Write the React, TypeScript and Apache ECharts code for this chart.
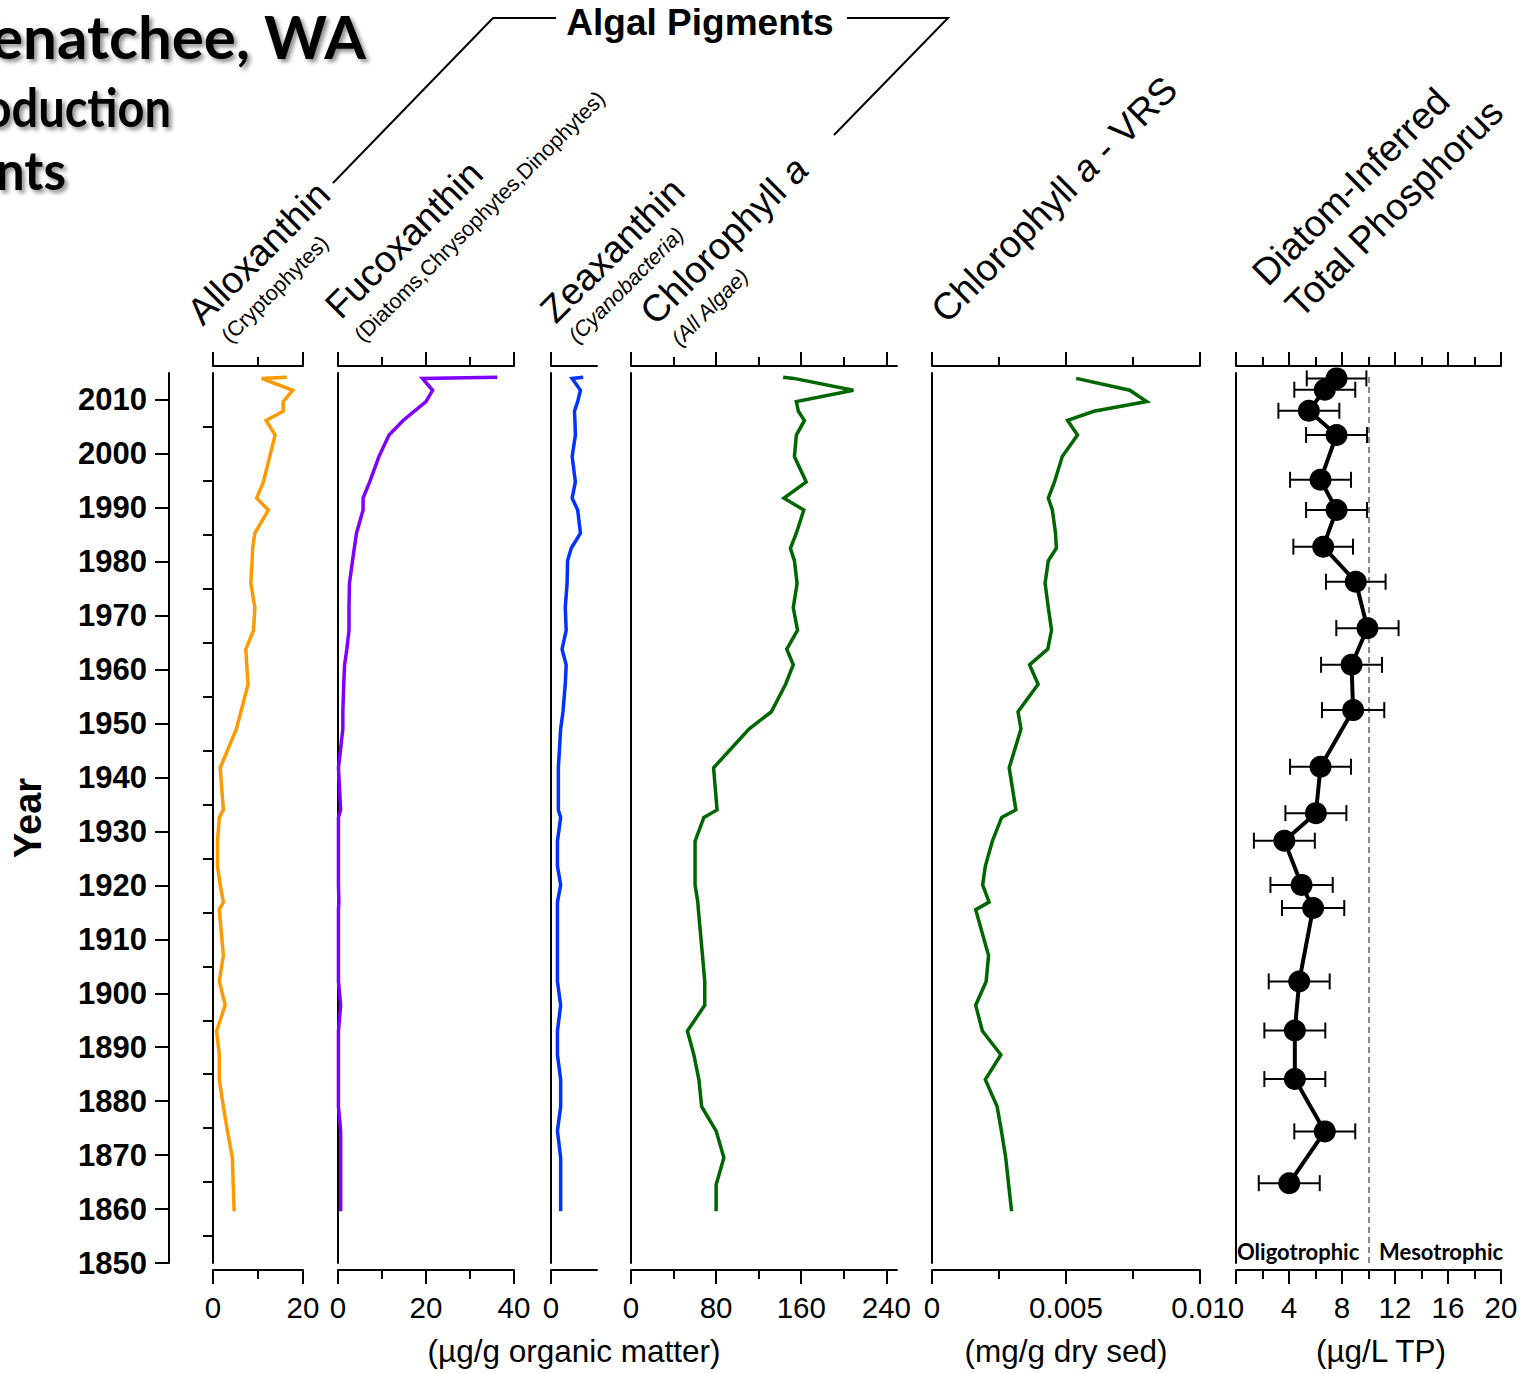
import React, { useEffect, useRef } from "react";
import * as echarts from "echarts";

// ---------- DATA ----------
// sediment sample years (pigments and VRS)
const pigmentYears = [
  2014.2, 2014.0, 2011.8, 2009.7, 2007.9, 2006.2, 2003.5, 1999.5, 1994.8, 1991.8,
  1989.6, 1985.3, 1982.5, 1980.2, 1976.0, 1971.5, 1967.3, 1963.8, 1960.9, 1957.3,
  1952.2, 1949.0, 1941.8, 1934.0, 1932.6, 1928.2, 1923.6, 1920.1, 1916.9, 1915.5,
  1907.0, 1902.2, 1897.8, 1893.0, 1888.6, 1884.0, 1879.0, 1874.5, 1869.5, 1864.5,
  1859.6,
];
const alloxanthin = [
  16.4, 10.8, 17.7, 15.6, 15.6, 11.8, 13.8, 12.6, 11.2, 9.7,
  12.3, 9.3, 8.8, 8.7, 8.4, 9.3, 9.0, 7.3, 7.5, 7.8,
  6.2, 5.2, 1.6, 2.3, 1.4, 1.0, 1.0, 1.6, 2.3, 1.4,
  2.3, 1.4, 2.7, 0.8, 1.4, 1.4, 2.3, 3.2, 4.3, 4.5,
  4.7,
];
const fucoxanthin = [
  36.2, 19.2, 21.5, 20.0, 17.3, 14.8, 11.6, 9.3, 7.2, 5.7,
  5.7, 4.2, 3.7, 3.3, 2.6, 2.5, 2.5, 2.0, 1.5, 1.3,
  1.1, 1.1, 0.1, 0.6, 0.1, 0.1, 0.1, 0.1, 0.2, 0.1,
  0.1, 0.1, 0.6, 0.1, 0.1, 0.1, 0.1, 0.6, 0.6, 0.6,
  0.6,
];
const zeaxanthin = [
  7.0, 4.6, 6.4, 5.8, 5.1, 5.2, 5.3, 4.6, 5.3, 4.6,
  5.8, 6.4, 4.4, 3.6, 3.5, 3.1, 3.3, 2.4, 3.3, 3.1,
  2.6, 2.1, 1.6, 1.6, 2.1, 1.4, 1.4, 2.1, 1.4, 1.4,
  1.4, 1.4, 2.1, 1.4, 1.4, 2.1, 2.1, 1.4, 2.1, 2.1,
  2.1,
];
const chlorophyllA = [
  143, 153, 209, 155.4, 157.3, 163, 155.4, 153.6, 164.7, 143.8,
  162.4, 155.4, 149.8, 153.6, 156.1, 152.5, 156.5, 146.4, 152.5, 145.3,
  131.9, 110.9, 77.6, 80.9, 68.5, 60.2, 60.2, 60.2, 62.8, 63.3,
  67.2, 69.3, 69.3, 53.0, 59.1, 63.8, 66.4, 80.0, 87.3, 80.0,
  80.0,
];
const chlorophyllVRS = [
  null, 0.00538, 0.00738, 0.00801, 0.00604, 0.00506, 0.00543, 0.00486, 0.00457, 0.00434,
  0.00449, 0.00461, 0.00464, 0.00434, 0.00422, 0.00434, 0.00446, 0.00432, 0.00364, 0.00396,
  0.00321, 0.00332, 0.00288, 0.00313, 0.0026, 0.00225, 0.00199, 0.00189, 0.00213, 0.00163,
  0.00211, 0.00202, 0.00163, 0.00188, 0.00257, 0.00199, 0.00243, 0.00259, 0.00275, 0.00286,
  0.00297,
];
// diatom-inferred TP
const tpYears = [
  2014.0, 2011.9, 2008.0, 2003.5, 1995.2, 1989.6, 1982.8, 1976.3, 1967.7, 1960.9,
  1952.5, 1942.0, 1933.4, 1928.3, 1920.1, 1915.8, 1902.2, 1893.1, 1884.1, 1874.4,
  1864.8,
];
const diTP = [
  7.59, 6.70, 5.50, 7.59, 6.38, 7.59, 6.58, 9.04, 9.92, 8.72,
  8.84, 6.38, 6.03, 3.65, 4.95, 5.82, 4.77, 4.44, 4.44, 6.70,
  4.02,
];
const tpError = [
  2.25, 2.3, 2.3, 2.3, 2.3, 2.3, 2.25, 2.25, 2.35, 2.3,
  2.35, 2.3, 2.3, 2.3, 2.35, 2.35, 2.3, 2.3, 2.3, 2.3,
  2.3,
];
const yearTicks = [1850, 1860, 1870, 1880, 1890, 1900, 1910, 1920, 1930, 1940, 1950, 1960, 1970, 1980, 1990, 2000, 2010];
const yearMinorTicks = [1855, 1865, 1875, 1885, 1895, 1905, 1915, 1925, 1935, 1945, 1955, 1965, 1975, 1985, 1995, 2005];

const alloTicks = [0, 20];
const alloMinor = [10];
const fucoTicks = [0, 20, 40];
const fucoMinor = [10, 30];
const zeaTicks = [0];
const chlTicks = [0, 80, 160, 240];
const chlMinor = [40, 120, 200];
const vrsTicks = [0, 0.005, 0.01];
const vrsMinor = [0.0025, 0.0075];
const tpTicks = [0, 4, 8, 12, 16, 20];
const tpMinor = [2, 6, 10, 14, 18];

// ---------- LAYOUT ----------
const GRID_TOP = 373;
const GRID_H = 890;
const PANELS = [
  { x0: 213, x1: 303, max: 20, major: alloTicks, minor: alloMinor },
  { x0: 338, x1: 514, max: 40, major: fucoTicks, minor: fucoMinor },
  { x0: 551, x1: 597, max: 10, major: zeaTicks, minor: [] as number[] },
  { x0: 631, x1: 897, max: 250, major: chlTicks, minor: chlMinor },
  { x0: 932, x1: 1200, max: 0.01, major: vrsTicks, minor: vrsMinor },
  { x0: 1236, x1: 1501, max: 20, major: tpTicks, minor: tpMinor },
];

const SANS = "'Liberation Sans', Arial, sans-serif";
const BLACK = "#000";
const HEAD = 37.5;
const SUB = 21.5;

function buildOption() {
  const grid = PANELS.map((p) => ({
    left: p.x0,
    top: GRID_TOP,
    width: p.x1 - p.x0,
    height: GRID_H,
    containLabel: false,
    outerBoundsMode: "none",
  }));

  const xAxis: any[] = [];
  PANELS.forEach((p, i) => {
    const base = {
      type: "value",
      gridIndex: i,
      min: 0,
      max: p.max,
      splitLine: { show: false },
      axisLabel: { show: false },
    };
    const line = { show: true, onZero: false, lineStyle: { color: BLACK, width: 2 } };
    const tick = (vals: number[], len: number) => ({
      show: vals.length > 0,
      inside: false,
      length: len,
      customValues: vals,
      lineStyle: { color: BLACK, width: 2 },
    });
    xAxis.push({ ...base, position: "top", offset: 7, axisLine: line, axisTick: tick(p.major, 14) });
    xAxis.push({ ...base, position: "top", offset: 7, axisLine: { show: false }, axisTick: tick(p.minor, 9) });
    xAxis.push({
      ...base,
      position: "bottom",
      offset: 7,
      axisLine: line,
      axisTick: tick(p.major, 14),
      axisLabel: {
        show: true,
        customValues: p.major,
        margin: 22,
        color: BLACK,
        fontSize: 29.5,
        fontFamily: SANS,
        formatter: (v: number) => String(v),
      },
    });
    xAxis.push({ ...base, position: "bottom", offset: 7, axisLine: { show: false }, axisTick: tick(p.minor, 9) });
  });

  const yAxis: any[] = PANELS.map((p, i) => ({
    type: "value",
    gridIndex: i,
    min: 1850,
    max: 2015,
    axisLine: { show: true, onZero: false, lineStyle: { color: BLACK, width: 2 } },
    axisTick: { show: false },
    axisLabel: { show: false },
    splitLine: { show: false },
  }));
  yAxis.push({
    type: "value",
    gridIndex: 0,
    position: "left",
    offset: 44,
    min: 1850,
    max: 2015,
    axisLine: { show: true, onZero: false, lineStyle: { color: BLACK, width: 2 } },
    axisTick: { show: true, length: 14, customValues: yearTicks, lineStyle: { color: BLACK, width: 2 } },
    axisLabel: {
      show: true,
      customValues: yearTicks,
      margin: 22,
      color: BLACK,
      fontSize: 31,
      fontWeight: "bold",
      fontFamily: SANS,
      formatter: (v: number) => String(v),
    },
    splitLine: { show: false },
    name: "Year",
    nameLocation: "middle",
    nameRotate: 90,
    nameGap: 122,
    nameTextStyle: { color: BLACK, fontSize: 38, fontWeight: "bold", fontFamily: SANS },
  });
  yAxis.push({
    type: "value",
    gridIndex: 0,
    position: "left",
    offset: 44,
    min: 1850,
    max: 2015,
    axisLine: { show: false },
    axisTick: { show: true, length: 10, customValues: yearMinorTicks, lineStyle: { color: BLACK, width: 2 } },
    axisLabel: { show: false },
    splitLine: { show: false },
  });

  const pig = (vals: (number | null)[]) =>
    pigmentYears
      .map((y, k) => (vals[k] == null ? null : [vals[k], y]))
      .filter((d) => d !== null);

  const lineSeries = (i: number, vals: (number | null)[], color: string) => ({
    type: "line",
    xAxisIndex: i * 4 + 2,
    yAxisIndex: i,
    data: pig(vals),
    symbol: "none",
    color,
    lineStyle: { color, width: 3.5, join: "miter" },
    z: 3,
  });

  const series: any[] = [
    lineSeries(0, alloxanthin, "#FF9900"),
    lineSeries(1, fucoxanthin, "#8000FF"),
    lineSeries(2, zeaxanthin, "#0033FF"),
    lineSeries(3, chlorophyllA, "#006600"),
    lineSeries(4, chlorophyllVRS, "#006600"),
    {
      type: "custom",
      xAxisIndex: 22,
      yAxisIndex: 5,
      z: 2,
      encode: { x: [0, 2, 3], y: 1 },
      data: tpYears.map((y, k) => [diTP[k], y, diTP[k] - tpError[k], diTP[k] + tpError[k]]),
      renderItem: (params: any, api: any) => {
        const y = api.value(1);
        const lo = api.coord([api.value(2), y]);
        const hi = api.coord([api.value(3), y]);
        const cap = 8;
        const st = { stroke: BLACK, lineWidth: 2 };
        return {
          type: "group",
          children: [
            { type: "line", shape: { x1: lo[0], y1: lo[1], x2: hi[0], y2: hi[1] }, style: st },
            { type: "line", shape: { x1: lo[0], y1: lo[1] - cap, x2: lo[0], y2: lo[1] + cap }, style: st },
            { type: "line", shape: { x1: hi[0], y1: hi[1] - cap, x2: hi[0], y2: hi[1] + cap }, style: st },
          ],
        };
      },
    },
    {
      type: "line",
      xAxisIndex: 22,
      yAxisIndex: 5,
      z: 4,
      data: tpYears.map((y, k) => [diTP[k], y]),
      symbol: "circle",
      symbolSize: 22,
      color: BLACK,
      itemStyle: { color: BLACK },
      lineStyle: { color: BLACK, width: 4 },
      markLine: {
        silent: true,
        symbol: "none",
        label: { show: false },
        lineStyle: { color: "#888", width: 2, type: [6, 4] },
        data: [{ xAxis: 10 }],
        z: 1,
      },
    },
  ];

  const R = Math.PI / 4;
  const header = (text: string, x: number, y: number, size: number, opts: any = {}) => ({
    type: "text",
    x,
    y,
    rotation: R,
    style: {
      text,
      fill: BLACK,
      fontSize: size,
      fontFamily: SANS,
      fontStyle: opts.italic ? "italic" : "normal",
      align: "left",
      verticalAlign: "bottom",
      rich: opts.rich,
    },
  });
  const italicA = { i: { fontStyle: "italic", fontSize: HEAD, fontFamily: SANS, fill: BLACK } };
  const titleStyle = (size: number) => ({
    fill: BLACK,
    fontSize: size,
    fontWeight: "bold",
    fontFamily: "Lato, 'Open Sans', sans-serif",
    align: "right",
    verticalAlign: "bottom",
    textShadowColor: "rgba(0,0,0,0.45)",
    textShadowBlur: 4,
    textShadowOffsetX: 3,
    textShadowOffsetY: 3,
  });
  const unitStyle = (text: string) => ({
    text,
    fill: BLACK,
    fontSize: 31.5,
    fontFamily: SANS,
    align: "center",
    verticalAlign: "middle",
  });
  const trophicStyle = (text: string) => ({
    text,
    fill: BLACK,
    fontSize: 22,
    fontWeight: "bold",
    fontFamily: "Lato, sans-serif",
    align: "left",
    verticalAlign: "middle",
  });

  const graphic: any[] = [
    { type: "text", x: 366, y: 66, style: { ...titleStyle(60), text: "Lake Wenatchee, WA" } },
    { type: "text", x: 171, y: 133, scaleX: 0.87, style: { ...titleStyle(54), text: "Primary Production" } },
    { type: "text", x: 66, y: 196, scaleX: 0.95, style: { ...titleStyle(54), text: "Pigments" } },
    // bracket
    { type: "polyline", shape: { points: [[333, 183], [493, 18], [556, 18]] }, style: { stroke: BLACK, lineWidth: 2, fill: null } },
    { type: "polyline", shape: { points: [[847, 18], [948, 18], [834, 135]] }, style: { stroke: BLACK, lineWidth: 2, fill: null } },
    {
      type: "text",
      x: 700,
      y: 22,
      style: { text: "Algal Pigments", fill: BLACK, fontSize: 37, fontWeight: "bold", fontFamily: SANS, align: "center", verticalAlign: "middle" },
    },
    header("Alloxanthin", 207, 331, HEAD),
    header("(Cryptophytes)", 233, 347, SUB),
    header("Fucoxanthin", 345, 325, HEAD),
    header("(Diatoms,Chrysophytes,Dinophytes)", 366, 346, SUB),
    header("Zeaxanthin", 560, 329, HEAD),
    header("(Cyanobacteria)", 580, 347, SUB, { italic: true }),
    header("Chlorophyll {i|a}", 660, 331, HEAD, { rich: italicA }),
    header("(All Algae)", 683, 350, SUB, { italic: true }),
    header("Chlorophyll {i|a} - VRS", 951, 329, HEAD, { rich: italicA }),
    header("Diatom-Inferred", 1272, 292, HEAD),
    header("Total Phosphorus", 1305, 324, HEAD),
    // unit labels
    { type: "text", x: 574, y: 1351, style: unitStyle("(µg/g organic matter)") },
    { type: "text", x: 1066, y: 1351, style: unitStyle("(mg/g dry sed)") },
    { type: "text", x: 1381, y: 1351, style: unitStyle("(µg/L TP)") },
    // trophic labels
    { type: "text", x: 1237, y: 1251, style: trophicStyle("Oligotrophic") },
    { type: "text", x: 1379, y: 1251, style: trophicStyle("Mesotrophic") },
  ];

  return {
    animation: false,
    backgroundColor: "#fff",
    grid,
    xAxis,
    yAxis,
    series,
    graphic,
  };
}

export default function App() {
  const ref = useRef<HTMLDivElement>(null);
  useEffect(() => {
    if (!ref.current) return;
    const chart = echarts.init(ref.current, null, { renderer: "svg" });
    chart.setOption(buildOption() as any);
    return () => chart.dispose();
  }, []);
  return (
    <div
      ref={ref}
      style={{ position: "absolute", left: 0, top: 0, width: 1528, height: 1373, background: "#fff" }}
    />
  );
}
